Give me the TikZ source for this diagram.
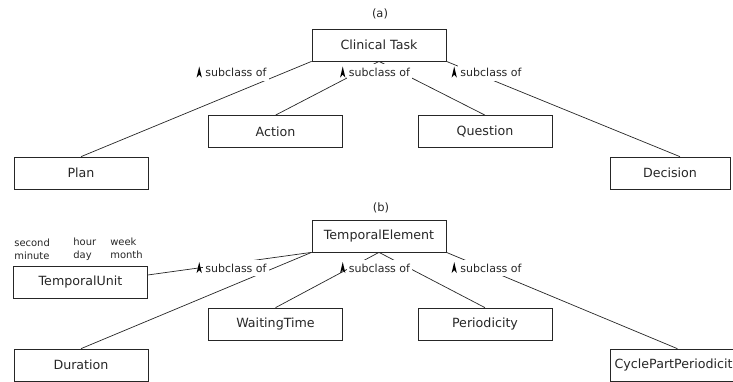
\documentclass[tikz,border=0pt]{standalone}
\usepackage{fontspec}
\setmainfont{DejaVu Sans}

\begin{document}
\begin{tikzpicture}[x=0.03cm,y=-0.03cm,line width=0.6pt,color=black!85]
	\tikzset{klasse/.style={draw,minimum width=4.02cm,minimum height=0.96cm,font=\fontsize{10.8}{13}\selectfont},
		subcl/.style={fill=white,inner xsep=2pt,inner ysep=3.5pt,font=\fontsize{9.4}{11}\selectfont},
		einh/.style={anchor=north west,align=left,inner sep=0pt,font=\fontsize{8.5}{10.5}\selectfont},
		titel/.style={font=\fontsize{9.8}{11}\selectfont}}
	\clip (0,0) rectangle (733,381);
	% (a)
	\node[titel] (ta) at (380,14) {(a)};
	\node[klasse] (CT) at (379,45) {Clinical Task};
	\node[klasse] (Act) at (275.5,131.5) {Action};
	\node[klasse] (Que) at (485,131.5) {Question};
	\node[klasse] (Plan) at (81,173) {Plan};
	\node[klasse,minimum width=3.6cm] (Dec) at (670,173) {Decision};
	\draw (Plan.north) -- (CT.south west);
	\draw (Act.north) -- (CT.south);
	\draw (Que.north) -- (CT.south);
	\draw ([xshift=8.5pt]Dec.north) -- (CT.south east);
	\node[subcl] (s1) at (236,72.5) {subclass of};
	\node[subcl] (s2) at (379.5,72.5) {subclass of};
	\node[subcl] (s3) at (491,72.5) {subclass of};
	% (b)
	\node[titel] (tb) at (381,208) {(b)};
	\node[klasse] (TE) at (379,236) {TemporalElement};
	\node[klasse] (TU) at (80.5,282) {TemporalUnit};
	\node[klasse] (WT) at (275.5,324) {WaitingTime};
	\node[klasse] (Per) at (485,324) {Periodicity};
	\node[klasse] (Dur) at (81,365) {Duration};
	\node[klasse,anchor=west] (Cyc) at (610,365) {CyclePartPeriodicity};
	\node[einh] (u1) at (14,239) {second\\minute};
	\node[einh] (u2) at (73,238) {hour\\day};
	\node[einh] (u3) at (110,238) {week\\month};
	\draw (Dur.north) -- (TE.south west);
	\draw ([yshift=6pt]TU.east) -- (TE.south west);
	\draw (WT.north) -- (TE.south);
	\draw (Per.north) -- (TE.south);
	\draw (Cyc.north) -- (TE.south east);
	\node[subcl] (s4) at (236,268) {subclass of};
	\node[subcl] (s5) at (379.5,268) {subclass of};
	\node[subcl] (s6) at (491,268) {subclass of};
	% arrow heads
	\foreach \s in {s1,s2,s3,s4,s5,s6}
		\fill[black] (\s.west) ++(-3.5,-6) -- ++(-2.6,11) -- ++(2.6,-2.8) -- ++(2.6,2.8) -- cycle;
\end{tikzpicture}
\end{document}
